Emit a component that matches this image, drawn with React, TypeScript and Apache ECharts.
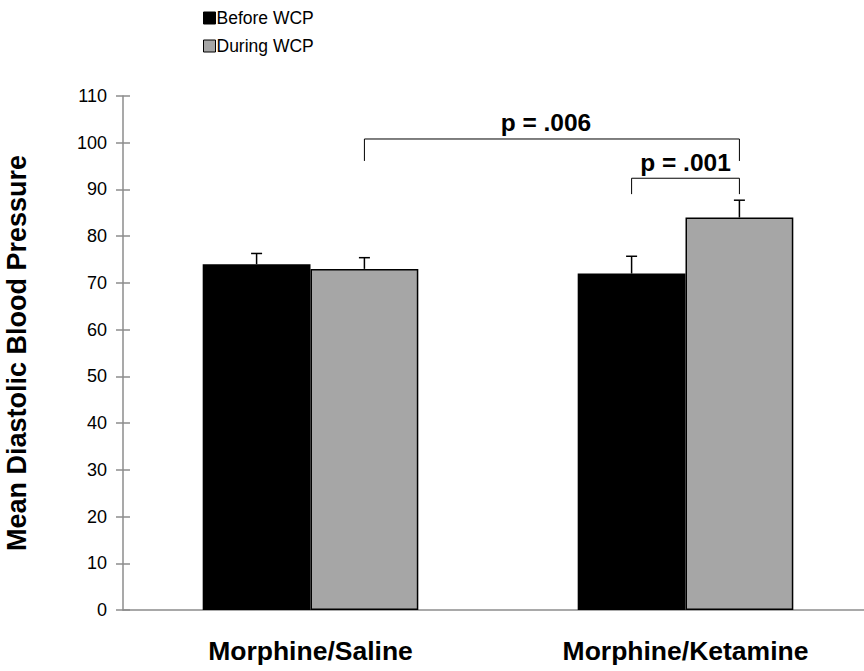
import React, { useEffect, useRef } from "react";
import * as echarts from "echarts";

const categories = ["Morphine/Saline", "Morphine/Ketamine"];
const seriesNames = ["Before WCP", "During WCP"];
const beforeValues = [74, 72];
const duringValues = [73, 84];
const beforeErrors = [2.3, 3.7];
const duringErrors = [2.4, 3.7];
const yTicks = { min: 0, max: 110, interval: 10 };
// significance brackets: from (category, series) to (category, series), bar level, leg end, label, label level
const bracketFrom = [[0, 1], [1, 0]];
const bracketTo = [[1, 1], [1, 1]];
const bracketLevels = [100.8, 92.4];
const bracketLegEnds = [96.1, 89.0];
const bracketLabels = ["p = .006", "p = .001"];
const bracketLabelLevels = [104.3, 95.8];

const BAR_SHARE = 0.575;
const LABEL_DX = [-6, 0];
const FONT = "'Liberation Sans', Arial, sans-serif";

export default function App() {
  const ref = useRef<HTMLDivElement>(null);
  useEffect(() => {
    if (!ref.current) return;
    const chart = echarts.init(ref.current, undefined, { renderer: "svg" });

    const offsetFor = (seriesIdx: number, band: number) => {
      const bw = (band * BAR_SHARE) / 2;
      return seriesIdx === 0 ? -bw / 2 : bw / 2;
    };

    const errData: number[][] = [];
    categories.forEach((_, i) => {
      errData.push([i, beforeValues[i], beforeErrors[i], 0]);
      errData.push([i, duringValues[i], duringErrors[i], 1]);
    });

    const errorSeries = {
      type: "custom",
      z: 5,
      data: errData,
      renderItem: (params: any, api: any) => {
        const cat = api.value(0);
        const val = api.value(1);
        const err = api.value(2);
        const s = api.value(3);
        const band = api.size([1, 0])[0];
        const base = api.coord([cat, val]);
        const top = api.coord([cat, val + err]);
        const x = base[0] + offsetFor(s, band);
        const cap = 5.5;
        return {
          type: "group",
          children: [
            { type: "line", shape: { x1: x, y1: base[1], x2: x, y2: top[1] }, style: { stroke: "#000", lineWidth: 1.5 } },
            { type: "line", shape: { x1: x - cap, y1: top[1], x2: x + cap, y2: top[1] }, style: { stroke: "#000", lineWidth: 1.5 } },
          ],
        };
      },
    };

    const bracketSeries = {
      type: "custom",
      z: 6,
      data: bracketLabels.map((_, i) => [bracketFrom[i][0], bracketLevels[i]]),
      renderItem: (params: any, api: any) => {
        const i = params.dataIndex;
        const band = api.size([1, 0])[0];
        const p1 = api.coord([bracketFrom[i][0], bracketLevels[i]]);
        const p2 = api.coord([bracketTo[i][0], bracketLevels[i]]);
        const leg = api.coord([bracketFrom[i][0], bracketLegEnds[i]])[1];
        const tl = api.coord([bracketFrom[i][0], bracketLabelLevels[i]])[1];
        const x1 = p1[0] + offsetFor(bracketFrom[i][1], band);
        const x2 = p2[0] + offsetFor(bracketTo[i][1], band);
        const y = p1[1];
        return {
          type: "group",
          children: [
            {
              type: "polyline",
              shape: { points: [[x1, leg], [x1, y], [x2, y], [x2, leg]] },
              style: { stroke: "#000", lineWidth: 1, fill: null },
            },
            {
              type: "text",
              x: (x1 + x2) / 2 + LABEL_DX[i],
              y: tl,
              style: { text: bracketLabels[i], fill: "#000", font: `bold 24.5px ${FONT}`, align: "center", verticalAlign: "middle" },
            },
          ],
        };
      },
    };

    chart.setOption({
      animation: false,
      backgroundColor: "#fff",
      textStyle: { fontFamily: FONT },
      legend: {
        orient: "vertical",
        left: 198,
        top: 4,
        itemWidth: 12,
        itemHeight: 12,
        itemGap: 10,
        icon: "rect",
        textStyle: { fontSize: 17.5, color: "#000", fontFamily: FONT, padding: [0, 0, 0, -4] },
        data: [
          { name: seriesNames[0], itemStyle: { color: "#000", borderColor: "#000", borderWidth: 1 } },
          { name: seriesNames[1], itemStyle: { color: "#a6a6a6", borderColor: "#000", borderWidth: 1 } },
        ],
      },
      grid: { left: 123, top: 96, width: 750, height: 514, containLabel: false, outerBoundsMode: "none" },
      xAxis: {
        type: "category",
        data: categories,
        axisLine: { lineStyle: { color: "#8c8c8c", width: 1.5 } },
        axisTick: { show: false },
        axisLabel: { fontSize: 26.5, fontWeight: "bold", color: "#000", margin: 27, fontFamily: FONT },
      },
      yAxis: [
        {
          type: "value",
          min: yTicks.min,
          max: yTicks.max,
          interval: yTicks.interval,
          name: "Mean Diastolic Blood Pressure",
          nameLocation: "middle",
          nameGap: 93,
          nameTextStyle: { fontSize: 27, fontWeight: "bold", color: "#000", fontFamily: FONT },
          axisLine: { show: true, lineStyle: { color: "#8c8c8c", width: 1.5 } },
          axisTick: { show: true, length: 7, lineStyle: { color: "#8c8c8c", width: 1.5 } },
          axisLabel: { fontSize: 18, color: "#000", margin: 16, fontFamily: FONT },
          splitLine: { show: false },
        },
        {
          type: "value",
          position: "left",
          min: yTicks.min,
          max: yTicks.max,
          interval: yTicks.interval,
          axisLine: { show: false },
          axisTick: { show: true, inside: true, length: 7, lineStyle: { color: "#8c8c8c", width: 1.5 } },
          axisLabel: { show: false },
          splitLine: { show: false },
        },
      ],
      series: [
        {
          name: seriesNames[0],
          type: "bar",
          data: beforeValues,
          barGap: "0%",
          barCategoryGap: `${(1 - BAR_SHARE) * 100}%`,
          itemStyle: { color: "#000", borderColor: "#000", borderWidth: 1.5 },
        },
        {
          name: seriesNames[1],
          type: "bar",
          data: duringValues,
          barGap: "0%",
          barCategoryGap: `${(1 - BAR_SHARE) * 100}%`,
          itemStyle: { color: "#a6a6a6", borderColor: "#000", borderWidth: 1.5 },
        },
        errorSeries,
        bracketSeries,
      ],
    });
    return () => chart.dispose();
  }, []);
  return <div ref={ref} style={{ width: 864, height: 671, position: "absolute", left: 0, top: 0 }} />;
}
